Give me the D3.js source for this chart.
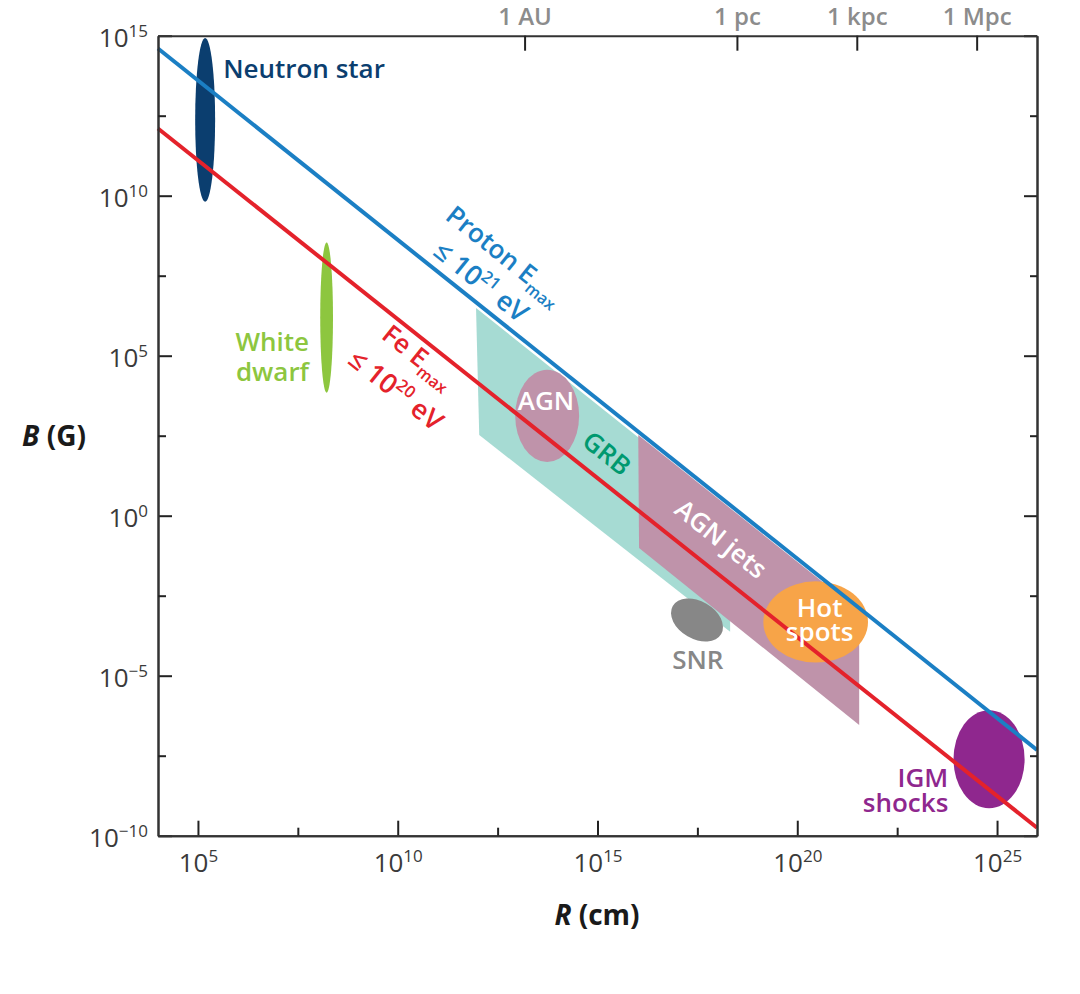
<!DOCTYPE html>
<html lang="en">
<head>
<meta charset="UTF-8">
<title>Hillas plot</title>
<style>
  body { margin: 0; background: #fff; }
  svg { display: block; font-family: "Open Sans", sans-serif; }
</style>
</head>
<body>
<div id="chart"></div>
<script src="https://d3js.org/d3.v7.min.js"></script>
<script>
// tick positions, as log10 of the value
const rMajor = [5, 10, 15, 20, 25];
const rMinor = [7.5, 12.5, 17.5, 22.5];
const bMajor = [15, 10, 5, 0, -5, -10];
const bMinor = [12.5, 7.5, 2.5, -2.5, -7.5];

// distance marks along the top (cm)
const distNames = ["1 AU", "1 pc", "1 kpc", "1 Mpc"];
const distValues = [1.496e13, 3.086e18, 3.086e21, 3.086e24];

// Hillas limits: [log10 R, log10 B] at both plot edges
const protonLine = [[4, 14.6], [26, -7.32]];
const ironLine = [[4, 12.1], [26, -9.75]];

// sources drawn as ellipses (log10 R / log10 B centre, half sizes in decades)
const blobNames = ["Neutron star", "White dwarf", "AGN", "SNR", "Hot spots", "IGM shocks"];
const blobR = [5.18, 8.22, 13.74, 17.49, 20.46, 24.8];
const blobB = [12.37, 6.19, 3.12, -3.26, -3.32, -7.61];
const blobDR = [0.25, 0.16, 0.80, 0.70, 1.31, 0.89];
const blobDB = [2.56, 2.35, 1.44, 0.59, 1.27, 1.53];
const blobFill = ["#0b3e6f", "#8dc63f", "#bf93aa", "#878787", "#f7a448", "#8f278e"];
const blobTilt = [0, 0, 0, 30, 0, 0];

// sources drawn as bands, corners in [log10 R, log10 B]
const grbBand = [[11.96, 6.49], [18.32, 0.16], [18.32, -3.63], [12.04, 2.52]];
const jetBand = [[16.02, 2.52], [21.55, -2.98], [21.55, -6.54], [16.04, -1.01]];

const W = 1080, H = 994;
const p = v => Math.pow(10, v);

const x = d3.scaleLog().domain([1e4, 1e26]).range([158, 1037]);
const y = d3.scaleLog().domain([1e-10, 1e15]).range([835.7, 35.7]);

// text angle of a B ~ 1/R line on screen
const slope = Math.atan2(y(p(-1)) - y(1), x(p(1)) - x(1)) * 180 / Math.PI;

// labels, anchored in data space
const labels = [
  {lines: [[{t: "Neutron star"}]], r: 5.63, b: 13.69, color: "#0b3e6f", anchor: "start"},
  {lines: [[{t: "White"}], [{t: "dwarf"}]], r: 7.78, b: 5.15, gap: 30, color: "#8dc63f", anchor: "end"},
  {lines: [[{t: "AGN"}]], r: 13.71, b: 3.30, color: "#fff", anchor: "middle"},
  {lines: [[{t: "GRB"}]], r: 15.23, b: 1.95, color: "#00996f", anchor: "middle", rot: true, mid: true},
  {lines: [[{t: "AGN jets"}]], r: 18.09, b: -0.73, color: "#fff", anchor: "middle", rot: true, mid: true},
  {lines: [[{t: "Hot"}], [{t: "spots"}]], r: 20.56, b: -3.16, gap: 24, color: "#fff", anchor: "middle"},
  {lines: [[{t: "SNR"}]], r: 17.51, b: -4.79, color: "#878787", anchor: "middle"},
  {lines: [[{t: "IGM"}], [{t: "shocks"}]], r: 23.78, b: -8.47, gap: 25, color: "#8f278e", anchor: "end"},
  {lines: [[{t: "Proton E"}, {t: "max", s: "sub"}]], r: 11.16, b: 9.29, color: "#1b7fc4", anchor: "start", rot: true},
  {lines: [[{t: "\u2264 10"}, {t: "21", s: "sup"}, {t: " eV"}]], r: 10.85, b: 8.18, color: "#1b7fc4", anchor: "start", rot: true, size: 27},
  {lines: [[{t: "Fe E"}, {t: "max", s: "sub"}]], r: 9.56, b: 5.57, color: "#e4222b", anchor: "start", rot: true},
  {lines: [[{t: "\u2264 10"}, {t: "20", s: "sup"}, {t: " eV"}]], r: 8.72, b: 4.79, color: "#e4222b", anchor: "start", rot: true, size: 27}
];

const svg = d3.select("#chart").append("svg")
    .attr("width", W)
    .attr("height", H)
    .style("background", "#fff");

const pt = d => [x(p(d[0])), y(p(d[1]))];

// bands
svg.append("path")
    .attr("d", "M" + grbBand.map(pt).join("L") + "Z")
    .attr("fill", "#a6dbd3");
svg.append("path")
    .attr("d", "M" + jetBand.map(pt).join("L") + "Z")
    .attr("fill", "#bf93aa");

// ellipses, in the order they stack
const order = [2, 3, 4, 5, 0, 1];
order.forEach(i => {
    const cx = x(p(blobR[i])), cy = y(p(blobB[i]));
    svg.append("ellipse")
        .attr("cx", cx)
        .attr("cy", cy)
        .attr("rx", x(p(blobR[i] + blobDR[i])) - cx)
        .attr("ry", cy - y(p(blobB[i] + blobDB[i])))
        .attr("transform", blobTilt[i] ? "rotate(" + blobTilt[i] + "," + cx + "," + cy + ")" : null)
        .attr("fill", blobFill[i]);
});

// Hillas lines
const line = d3.line().x(d => x(p(d[0]))).y(d => y(p(d[1])));
svg.append("path").attr("d", line(protonLine))
    .attr("fill", "none").attr("stroke", "#1b7fc4").attr("stroke-width", 4);
svg.append("path").attr("d", line(ironLine))
    .attr("fill", "none").attr("stroke", "#e4222b").attr("stroke-width", 4);

// labels
function addParts(text, parts, fs, first) {
    let shift = 0;
    parts.forEach((part, j) => {
        const ts = text.append("tspan").text(part.t);
        if (j === 0 && first) first(ts);
        let want = 0;
        if (part.s === "sub") { want = 0.24 * fs; ts.attr("font-size", fs * 0.62); }
        if (part.s === "sup") { want = -0.4 * fs; ts.attr("font-size", fs * 0.62); }
        if (want !== shift) ts.attr("dy", want - shift);
        shift = want;
    });
}

labels.forEach(l => {
    const fs = l.size || 26;
    const ax = x(p(l.r)), ay = y(p(l.b));
    const t = svg.append("text")
        .attr("transform", "translate(" + ax + "," + ay + ")" + (l.rot ? " rotate(" + slope + ")" : ""))
        .attr("dy", l.mid ? "0.35em" : null)
        .attr("text-anchor", l.anchor)
        .attr("font-size", fs)
        .attr("font-weight", 600)
        .attr("fill", l.color);
    l.lines.forEach((parts, k) => {
        addParts(t, parts, fs, k > 0 ? ts => ts.attr("x", 0).attr("dy", l.gap) : null);
    });
});

// axes
function styleAxis(g, size) {
    g.attr("font-family", "'Open Sans', sans-serif").attr("font-size", size);
    g.select(".domain").attr("stroke", "#333").attr("stroke-width", 2);
    g.selectAll(".tick line").attr("stroke", "#222").attr("stroke-width", 2);
    return g;
}

function powerLabel(sel) {
    sel.each(function(d) {
        const e = Math.round(Math.log10(d));
        const t = d3.select(this).text("").attr("fill", "#3a3a3a").attr("font-weight", 400);
        t.append("tspan").text("10");
        t.append("tspan").attr("dy", -10).attr("font-size", 17)
            .text(e < 0 ? "\u2212" + (-e) : e);
    });
}

const leftMajor = svg.append("g").attr("transform", "translate(158,0)")
    .call(d3.axisLeft(y).tickValues(bMajor.map(p)).tickSize(-14).tickSizeOuter(0).tickPadding(10));
styleAxis(leftMajor, 26);
leftMajor.selectAll(".tick text").attr("dy", "0.42em").call(powerLabel);

const leftMinor = svg.append("g").attr("transform", "translate(158,0)")
    .call(d3.axisLeft(y).tickValues(bMinor.map(p)).tickSize(-8).tickSizeOuter(0).tickFormat(""));
styleAxis(leftMinor, 26);

const rightMajor = svg.append("g").attr("transform", "translate(1037,0)")
    .call(d3.axisRight(y).tickValues(bMajor.map(p)).tickSize(-13).tickSizeOuter(0).tickFormat(""));
styleAxis(rightMajor, 26);
const rightMinor = svg.append("g").attr("transform", "translate(1037,0)")
    .call(d3.axisRight(y).tickValues(bMinor.map(p)).tickSize(-7).tickSizeOuter(0).tickFormat(""));
styleAxis(rightMinor, 26);

const bottomMajor = svg.append("g").attr("transform", "translate(0,835.7)")
    .call(d3.axisBottom(x).tickValues(rMajor.map(p)).tickSize(-15).tickSizeOuter(0).tickPadding(18));
styleAxis(bottomMajor, 26);
bottomMajor.selectAll(".tick text").call(powerLabel);

const bottomMinor = svg.append("g").attr("transform", "translate(0,835.7)")
    .call(d3.axisBottom(x).tickValues(rMinor.map(p)).tickSize(-8).tickSizeOuter(0).tickFormat(""));
styleAxis(bottomMinor, 26);

const topAxis = svg.append("g").attr("transform", "translate(0,35.7)")
    .call(d3.axisTop(x).tickValues(distValues).tickSize(-15).tickSizeOuter(0).tickPadding(11)
        .tickFormat((d, i) => distNames[i]));
styleAxis(topAxis, 24);
topAxis.selectAll(".tick text").attr("fill", "#8c8c8c").attr("font-weight", 600);

// axis titles
const yTitle = svg.append("text")
    .attr("x", 22).attr("y", 446)
    .attr("font-size", 28).attr("font-weight", 700).attr("fill", "#1a1a1a");
yTitle.append("tspan").attr("font-style", "italic").text("B");
yTitle.append("tspan").text(" (G)");

const xTitle = svg.append("text")
    .attr("x", 597).attr("y", 925)
    .attr("text-anchor", "middle")
    .attr("font-size", 28).attr("font-weight", 700).attr("fill", "#1a1a1a");
xTitle.append("tspan").attr("font-style", "italic").text("R");
xTitle.append("tspan").text(" (cm)");
</script>
</body>
</html>
